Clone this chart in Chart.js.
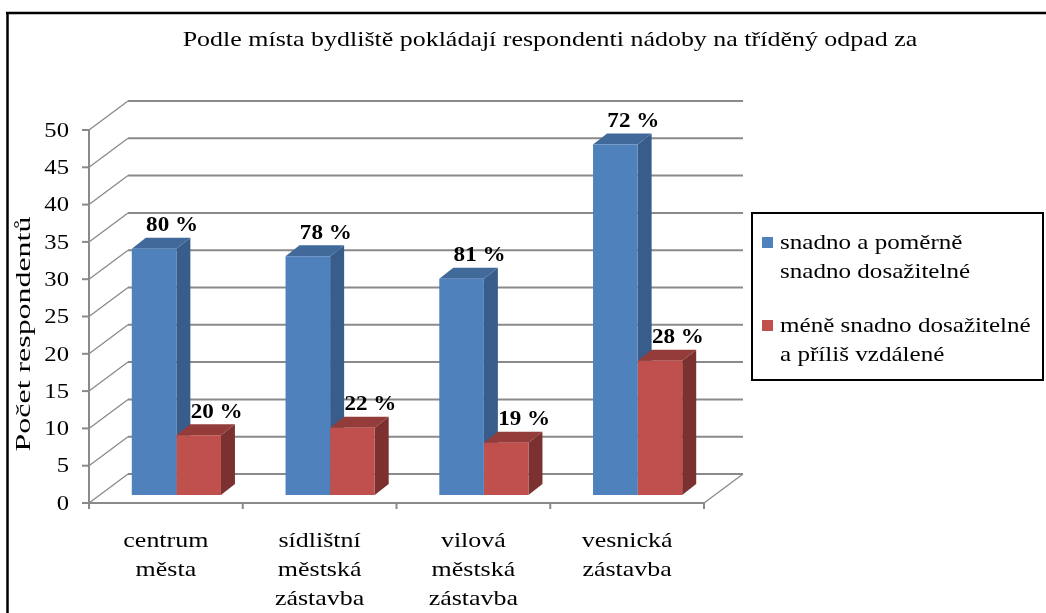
<!DOCTYPE html>
<html>
<head>
<meta charset="utf-8">
<script src="https://cdn.jsdelivr.net/npm/chart.js@4/dist/chart.umd.min.js"></script>
<style>
  html, body { margin: 0; padding: 0; background: #fff; }
  #wrap { width: 1046px; height: 613px; }
</style>
</head>
<body>
<div id="wrap"><canvas id="chart" width="1046" height="613"></canvas></div>
<script>
/* 3D-look clustered columns (Excel style) */

const TITLE = "Podle místa bydliště pokládají respondenti nádoby na tříděný odpad za";
const Y_TITLE = "Počet respondentů";
const categories = [
  ["centrum", "města"],
  ["sídlištní", "městská", "zástavba"],
  ["vilová", "městská", "zástavba"],
  ["vesnická", "zástavba"],
];
const seriesNames = [
  ["snadno a poměrně", "snadno dosažitelné"],
  ["méně snadno dosažitelné", "a příliš vzdálené"],
];
const easyValues  = [33, 32, 29, 47];
const hardValues  = [8, 9, 7, 18];
const easyPct     = ["80 %", "78 %", "81 %", "72 %"];
const hardPct     = ["20 %", "22 %", "19 %", "28 %"];
const yTicks      = [0, 5, 10, 15, 20, 25, 30, 35, 40, 45, 50];

const COLORS = {
  front: ["#4F81BD", "#C0504D"],
  side:  ["#385D8A", "#7B3130"],
  top:   ["#416A9A", "#943C3A"],
};
const FONT = "'Liberation Serif', 'Times New Roman', serif";

// depth offsets relative to the bar front plane
const BAR_D   = { x: 14,    y: -11 };
const BACK_D  = { x: 28.5,  y: -21 };
const FRONT_D = { x: -10.5, y: 8 };
const GRID = "#8A8A8A";

function line(ctx, x1, y1, x2, y2) {
  ctx.beginPath(); ctx.moveTo(x1, y1); ctx.lineTo(x2, y2); ctx.stroke();
}
function poly(ctx, pts, fill) {
  ctx.beginPath();
  ctx.moveTo(pts[0][0], pts[0][1]);
  for (let i = 1; i < pts.length; i++) ctx.lineTo(pts[i][0], pts[i][1]);
  ctx.closePath();
  ctx.fillStyle = fill;
  ctx.fill();
}
// old GDI Times renders wider than Liberation Serif, so stretch a bit
function text(ctx, t, x, y, sx) {
  ctx.save();
  ctx.translate(x, y);
  ctx.scale(sx, 1);
  ctx.fillText(t, 0, 0);
  ctx.restore();
}

const scene3d = {
  id: "scene3d",
  beforeDraw(chart) {
    const { ctx, chartArea: a, scales } = chart;
    const y = scales.y;
    ctx.save();
    ctx.fillStyle = "#fff";
    ctx.fillRect(0, 0, chart.width, chart.height);

    // outer frame (only top and left visible)
    ctx.strokeStyle = "#000"; ctx.lineWidth = 2.5;
    line(ctx, 7.5, 13, 7.5, chart.height);
    line(ctx, 6, 13, chart.width, 13);

    // title
    ctx.fillStyle = "#000";
    ctx.font = `22px ${FONT}`;
    ctx.textAlign = "center"; ctx.textBaseline = "middle";
    text(ctx, TITLE, 550, 40, 1.18);

    // y axis title
    ctx.save();
    ctx.translate(24, 334);
    ctx.rotate(-Math.PI / 2);
    ctx.font = `22px ${FONT}`;
    text(ctx, Y_TITLE, 0, 0, 1.45);
    ctx.restore();

    // back wall gridlines + left wall diagonals
    ctx.strokeStyle = GRID; ctx.lineWidth = 2;
    yTicks.forEach(v => {
      const py = y.getPixelForValue(v);
      line(ctx, a.left + BACK_D.x, py + BACK_D.y, a.right + BACK_D.x, py + BACK_D.y);
    });
    ctx.lineWidth = 1.3;
    yTicks.forEach(v => {
      const py = y.getPixelForValue(v);
      line(ctx, a.left + FRONT_D.x, py + FRONT_D.y, a.left + BACK_D.x, py + BACK_D.y);
    });

    // floor
    const y0 = y.getPixelForValue(0);
    ctx.lineWidth = 2;
    line(ctx, a.left + FRONT_D.x, y0 + FRONT_D.y, a.right + FRONT_D.x, y0 + FRONT_D.y);
    ctx.lineWidth = 1.3;
    line(ctx, a.right + FRONT_D.x, y0 + FRONT_D.y, a.right + BACK_D.x, y0 + BACK_D.y);

    // front y axis + ticks
    ctx.lineWidth = 2;
    const fx = a.left + FRONT_D.x;
    line(ctx, fx, y.getPixelForValue(50) + FRONT_D.y, fx, y0 + FRONT_D.y);
    ctx.font = `22px ${FONT}`;
    ctx.textAlign = "right"; ctx.textBaseline = "middle";
    yTicks.forEach(v => {
      const py = y.getPixelForValue(v) + FRONT_D.y;
      ctx.strokeStyle = GRID;
      line(ctx, fx - 7, py, fx, py);
      ctx.fillStyle = "#000";
      text(ctx, String(v), fx - 20, py + 1, 1.12);
    });

    // category ticks and labels on the front edge
    const n = categories.length;
    const cw = (a.right - a.left) / n;
    for (let i = 0; i <= n; i++) {
      const px = a.left + FRONT_D.x + cw * i;
      line(ctx, px, y0 + FRONT_D.y, px, y0 + FRONT_D.y + 6);
    }
    ctx.textAlign = "center"; ctx.fillStyle = "#000";
    categories.forEach((lines, i) => {
      const cx = a.left + FRONT_D.x + cw * (i + 0.5);
      lines.forEach((t, k) => text(ctx, t, cx, 541 + k * 29, 1.18));
    });

    // legend
    ctx.strokeStyle = "#000"; ctx.lineWidth = 2;
    ctx.strokeRect(752, 213, 291, 167);
    const rows = [243, 326];
    seriesNames.forEach((lines, s) => {
      ctx.fillStyle = COLORS.front[s];
      ctx.fillRect(762, rows[s] - 6, 11, 11);
      ctx.fillStyle = "#000";
      ctx.textAlign = "left";
      lines.forEach((t, k) => text(ctx, t, 780, rows[s] + k * 29, 1.14));
    });
    ctx.restore();
  },
  beforeDatasetsDraw(chart) {
    const { ctx } = chart;
    ctx.save();
    const n = categories.length;
    for (let i = 0; i < n; i++) {
      chart.data.datasets.forEach((ds, s) => {
        const bar = chart.getDatasetMeta(s).data[i];
        const { x, y, base, width } = bar.getProps(["x", "y", "base", "width"], true);
        const l = x - width / 2, r = x + width / 2;
        poly(ctx, [[r, y], [r + BAR_D.x, y + BAR_D.y], [r + BAR_D.x, base + BAR_D.y], [r, base]], COLORS.side[s]);
        poly(ctx, [[l, y], [l + BAR_D.x, y + BAR_D.y], [r + BAR_D.x, y + BAR_D.y], [r, y]], COLORS.top[s]);
      });
    }
    ctx.restore();
  },
  afterDatasetsDraw(chart) {
    const { ctx } = chart;
    const pcts = [easyPct, hardPct];
    ctx.save();
    ctx.font = `bold 21px ${FONT}`;
    ctx.fillStyle = "#000";
    ctx.textAlign = "center"; ctx.textBaseline = "middle";
    chart.data.datasets.forEach((ds, s) => {
      chart.getDatasetMeta(s).data.forEach((bar, i) => {
        const { x, y } = bar.getProps(["x", "y"], true);
        text(ctx, pcts[s][i], x + 18, y - 23, 1.1);
      });
    });
    ctx.restore();
  },
};

new Chart(document.getElementById("chart"), {
  type: "bar",
  data: {
    labels: categories.map(c => c.join(" ")),
    datasets: [
      { label: seriesNames[0].join(" "), data: easyValues, backgroundColor: COLORS.front[0] },
      { label: seriesNames[1].join(" "), data: hardValues, backgroundColor: COLORS.front[1] },
    ],
  },
  options: {
    responsive: false,
    animation: false,
    events: [],
    layout: { padding: { left: 99.5, right: 331.5, top: 122, bottom: 118 } },
    datasets: { bar: { categoryPercentage: 0.58, barPercentage: 1.0 } },
    plugins: { legend: { display: false }, title: { display: false }, tooltip: { enabled: false } },
    scales: {
      x: { display: false },
      y: { display: false, min: 0, max: 50 },
    },
  },
  plugins: [scene3d],
});
</script>
</body>
</html>
